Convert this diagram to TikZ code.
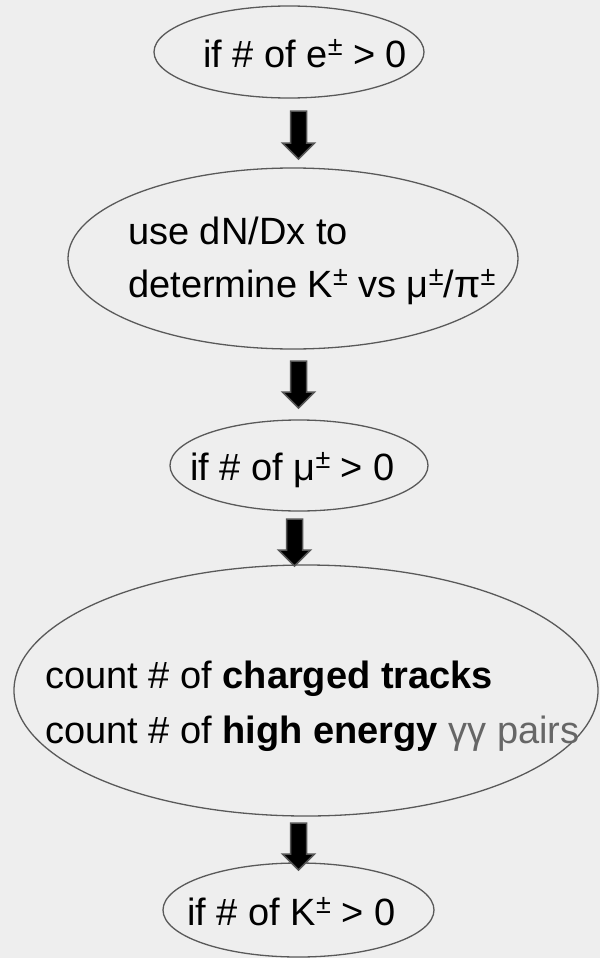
\documentclass[tikz,border=0pt]{standalone}
\usepackage{fontspec}
\setmainfont{Liberation Sans}
\usetikzlibrary{shapes.geometric}
\definecolor{bg}{HTML}{EEEEEE}
\definecolor{edge}{HTML}{595959}
\definecolor{gtxt}{HTML}{666666}
\definecolor{arredge}{HTML}{555555}
\newcommand\pmsup{\raisebox{12pt}{\fontsize{27}{27}\selectfont ±}}
\newcommand\blockarr[4]{% name, x, ytop, ytip
  \coordinate (#1) at (#2,#4);
  \draw[barrow] ({#2-8},#3) -- ({#2+8},#3) -- ({#2+8},{#4-16}) -- ({#2+16},{#4-16})
     -- (#1) -- ({#2-16},{#4-16}) -- ({#2-8},{#4-16}) -- cycle;}
\begin{document}
\begin{tikzpicture}[x=1pt,y=-1pt,
  oval/.style={ellipse, draw=edge, line width=1.3pt, fill=bg, inner sep=0pt},
  lbl/.style={anchor=base west, inner sep=0pt, font=\fontsize{38}{54}\selectfont},
  barrow/.style={fill=black, draw=arredge, line width=1.5pt, line join=miter}]
\fill[bg] (0,0) rectangle (600,958);
\useasboundingbox (0,0) rectangle (600,958);
% ellipses
\node[oval, minimum width=270pt, minimum height=92pt] (e1) at (289,52) {};
\node[oval, minimum width=450pt, minimum height=181pt] (e2) at (293,258.5) {};
\node[oval, minimum width=258pt, minimum height=91pt] (e3) at (299,465.5) {};
\node[oval, minimum width=584pt, minimum height=251pt] (e4) at (306,690.5) {};
\node[oval, minimum width=271pt, minimum height=94pt] (e5) at (298.5,910) {};
% labels
\node[lbl] (t1) at (203,67) {if \# of e\pmsup{} > 0};
\node[lbl] (t2a) at (128,244) {use dN/Dx to};
\node[lbl] (t2b) at (128,297) {determine K\pmsup{} vs μ\pmsup{}/π\pmsup};
\node[lbl] (t3) at (190,480) {if \# of μ\pmsup{} > 0};
\node[lbl] (t4a) at (45,688) {count \# of \textbf{charged tracks}};
\node[lbl] (t4b) at (45,743) {count \# of \textbf{high energy} \textcolor{gtxt}{γγ pairs}};
\node[lbl] (t5) at (187,925) {if \# of K\pmsup{} > 0};
% connectors
\blockarr{a1}{298.5}{111}{159}
\blockarr{a2}{298.5}{361}{408}
\blockarr{a3}{294.5}{519}{566}
\blockarr{a4}{298.5}{823}{870}
\end{tikzpicture}
\end{document}
